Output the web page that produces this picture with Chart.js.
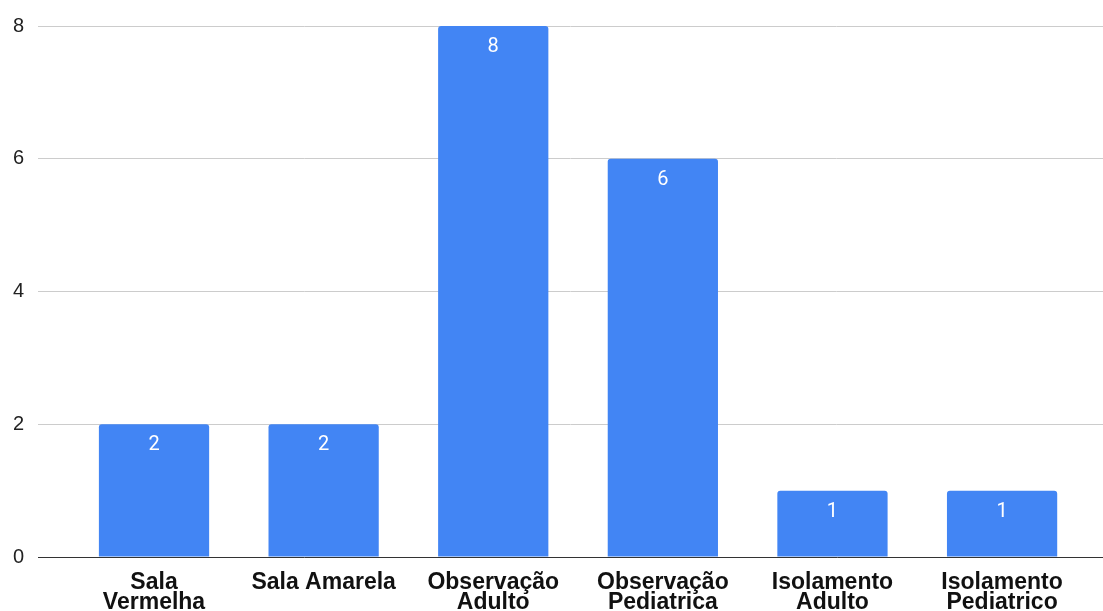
<!DOCTYPE html>
<html>
<head>
<meta charset="utf-8">
<script src="https://cdn.jsdelivr.net/npm/chart.js@4/dist/chart.umd.min.js"></script>
<style>
  html, body { margin: 0; padding: 0; background: #fff; }
  canvas { display: block; }
</style>
</head>
<body>
<canvas id="chart" width="1103" height="611"></canvas>
<script>
// data
const categories = [
    ["Sala", "Vermelha"],
    ["Sala Amarela"],
    ["Observação", "Adulto"],
    ["Observação", "Pediatrica"],
    ["Isolamento", "Adulto"],
    ["Isolamento", "Pediatrico"]
];
const values = [2, 2, 8, 6, 1, 1];
const yTicks = [0, 2, 4, 6, 8];

// white numbers written just under the top of each bar
const barLabels = {
    id: "barLabels",
    afterDatasetsDraw(chart) {
        const ctx = chart.ctx;
        const meta = chart.getDatasetMeta(0);
        ctx.save();
        ctx.fillStyle = "#ffffff";
        ctx.font = "20px Roboto, 'Liberation Sans', sans-serif";
        ctx.textAlign = "center";
        ctx.textBaseline = "middle";
        meta.data.forEach((bar, i) => {
            ctx.fillText(String(values[i]), bar.x, bar.y + 21);
        });
        ctx.restore();
    }
};

new Chart(document.getElementById("chart").getContext("2d"), {
    type: "bar",
    data: {
        datasets: [{
            data: values.map((v, i) => ({ x: i, y: v })),
            backgroundColor: "#4285F4",
            borderRadius: 3,
            categoryPercentage: 1,
            barPercentage: 0.65
        }]
    },
    options: {
        responsive: false,
        animation: false,
        layout: { padding: { top: 23, right: 0, left: 0, bottom: 0 } },
        plugins: {
            legend: { display: false },
            tooltip: { enabled: false }
        },
        scales: {
            x: {
                type: "linear",
                offset: false,
                min: -0.684,
                max: 5.595,
                afterBuildTicks(scale) {
                    scale.ticks = categories.map((c, i) => ({ value: i }));
                },
                afterFit(scale) {
                    scale.height = 54;
                },
                grid: { display: false, drawTicks: false },
                border: { display: true, color: "#333333", width: 1 },
                ticks: {
                    autoSkip: false,
                    maxRotation: 0,
                    minRotation: 0,
                    padding: 16,
                    color: "#111111",
                    font: { family: "'Liberation Sans', Arial, sans-serif", size: 23, weight: "bold", lineHeight: "20px" },
                    callback: (value) => categories[value]
                }
            },
            y: {
                min: 0,
                max: 8,
                afterBuildTicks(scale) {
                    scale.ticks = yTicks.map(v => ({ value: v }));
                },
                afterFit(scale) {
                    scale.width = 38;
                },
                grid: { color: "#cccccc", lineWidth: 1, drawTicks: false },
                border: { display: false },
                ticks: {
                    padding: 14,
                    color: "#222222",
                    font: { family: "'Liberation Sans', Arial, sans-serif", size: 20 }
                }
            }
        }
    },
    plugins: [barLabels]
});
</script>
</body>
</html>
